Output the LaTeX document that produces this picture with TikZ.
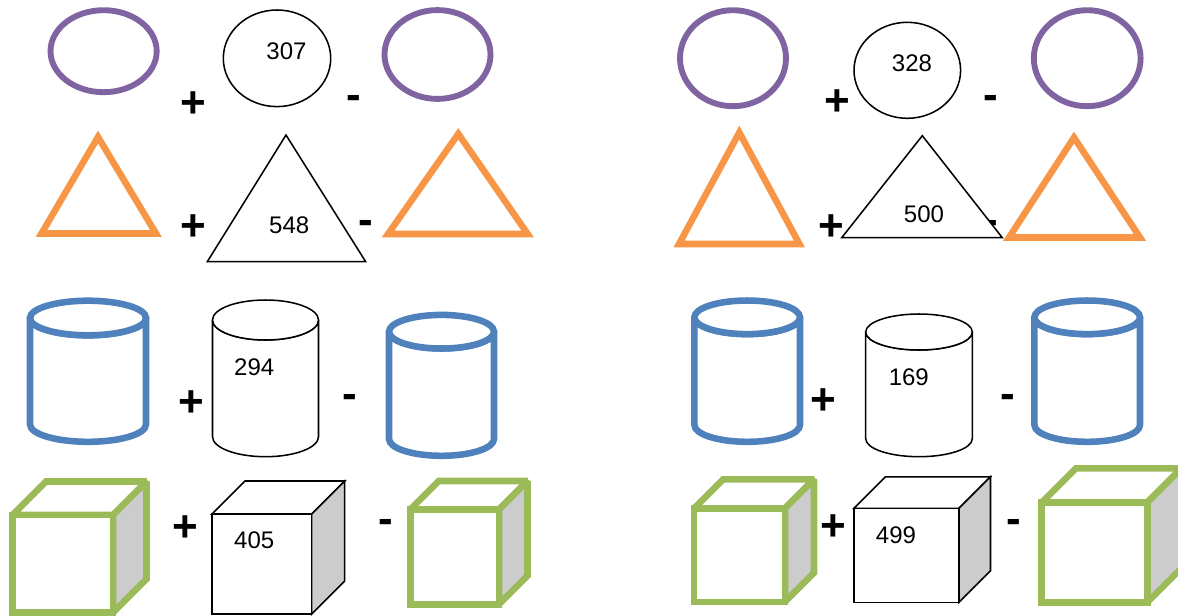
\documentclass[tikz,border=0pt]{standalone}
\usepackage{fontspec}
\setmainfont{Liberation Sans}
\definecolor{shpurple}{HTML}{8064A2}
\definecolor{shorange}{HTML}{F79646}
\definecolor{shblue}{HTML}{4F81BD}
\definecolor{shgreen}{HTML}{9BBB59}
\definecolor{sidegray}{HTML}{CCCCCC}

% cylinder: #1 style, #2 centre x, #3 top y, #4 bottom y, #5 x radius, #6 y radius
\newcommand\cylshape[6]{%
  \filldraw[#1, line join=round] ({#2-#5},#3) -- ({#2-#5},#4)
    .. controls ({#2-#5},{#4+0.5523*#6}) and ({#2-0.5523*#5},{#4+#6}) .. (#2,{#4+#6})
    .. controls ({#2+0.5523*#5},{#4+#6}) and ({#2+#5},{#4+0.5523*#6}) .. ({#2+#5},#4)
    -- ({#2+#5},#3)
    .. controls ({#2+#5},{#3+0.5523*#6}) and ({#2+0.5523*#5},{#3+#6}) .. (#2,{#3+#6})
    .. controls ({#2-0.5523*#5},{#3+#6}) and ({#2-#5},{#3+0.5523*#6}) .. ({#2-#5},#3)
    -- cycle;
  \filldraw[#1] (#2,#3) ellipse [x radius=#5, y radius=#6];
}
% cube: #1 style, #2 left, #3 top, #4 right, #5 bottom of the front face, #6 depth
\newcommand\cubeshape[6]{%
  \filldraw[#1, fill=white] (#2,#3) -- ({#2+#6},{#3-#6}) -- ({#4+#6},{#3-#6}) -- (#4,#3) -- cycle;
  \filldraw[#1, fill=sidegray] (#4,#3) -- ({#4+#6},{#3-#6}) -- ({#4+#6},{#5-#6}) -- (#4,#5) -- cycle;
  \filldraw[#1, fill=white] (#2,#3) rectangle (#4,#5);
}

\begin{document}
\begin{tikzpicture}[x=0.75pt, y=-0.75pt,
  purpleline/.style={draw=shpurple, line width=4.4pt, fill=white},
  orangeline/.style={draw=shorange, line width=4.9pt, fill=white, line join=miter},
  blueline/.style={draw=shblue, line width=4.9pt, fill=white},
  greenline/.style={draw=shgreen, line width=4.9pt, line join=miter, miter limit=2},
  blackline/.style={draw=black, line width=1.15pt, fill=white},
  num/.style={inner sep=0pt, font=\fontsize{18}{18}\selectfont},
  op/.style={inner sep=0pt, font=\fontsize{33}{33}\selectfont\bfseries}]
\useasboundingbox (0,0) rectangle (1178,615);

% ---- row 1: ellipses ----
\filldraw[purpleline] (103.6,51.2) ellipse [x radius=53.1, y radius=41];
\node[op] (p1) at (193.3,104.5) {+};
\filldraw[blackline] (277,58.3) ellipse [x radius=53.7, y radius=48.3];
\node[num] (n307) at (286.5,51.3) {307};
\node[op] (m1) at (354,102.5) {-};
\filldraw[purpleline] (437.5,54.5) ellipse [x radius=53, y radius=44.4];

\filldraw[purpleline] (733,58.2) ellipse [x radius=53, y radius=48];
\node[op] (p2) at (837,102.6) {+};
\filldraw[blackline] (907.3,70.3) ellipse [x radius=53.3, y radius=48];
\node[num] (n328) at (912,63) {328};
\node[op] (m2) at (991,102.7) {-};
\filldraw[purpleline] (1087.2,58.2) ellipse [x radius=53.4, y radius=48];

% ---- row 2: triangles ----
\filldraw[orangeline] (98,137) -- (41.5,233.5) -- (156,233.5) -- cycle;
\node[op] (p3) at (193.3,227.9) {+};
\filldraw[blackline] (286,135) -- (207.3,261.7) -- (365.7,261.7) -- cycle;
\node[num] (n548) at (289.2,225.2) {548};
\node[op] (m3) at (366,227.9) {-};
\filldraw[orangeline] (458.3,133.8) -- (388,234) -- (527.7,234) -- cycle;

\filldraw[orangeline] (739.3,132.5) -- (679,244) -- (799.4,244) -- cycle;
\node[op] (p4) at (831.7,227.3) {+};
\node[op] (m4) at (991,227.7) {-};
\filldraw[blackline] (922.3,135.7) -- (841.7,237.7) -- (1002.3,237.7) -- cycle;
\node[num] (n500) at (924,214) {500};
\filldraw[orangeline] (1074,137.5) -- (1009,237.5) -- (1140,237.5) -- cycle;

% ---- row 3: cylinders ----
\cylshape{blueline}{88}{318}{424.5}{58}{17.3}
\node[op] (p5) at (191.3,403.6) {+};
\cylshape{blackline}{265.5}{320}{436.7}{53}{20}
\node[num] (n294) at (254.2,367.5) {294};
\node[op] (m5) at (350,401.7) {-};
\cylshape{blueline}{441.5}{331.7}{439}{52.5}{16.8}

\cylshape{blueline}{747.2}{317.3}{425}{52.8}{16.8}
\node[op] (p6) at (823,401.4) {+};
\cylshape{blackline}{919}{332}{438.7}{53.3}{18}
\node[num] (n169) at (908.8,377) {169};
\node[op] (m6) at (1008.3,401.7) {-};
\cylshape{blueline}{1087.2}{317.3}{425}{52.8}{16.8}

% ---- row 4: cubes ----
\cubeshape{greenline}{12.5}{515}{113}{612.5}{33.5}
\node[op] (p7) at (185.5,528.1) {+};
\cubeshape{blackline}{212}{514}{311.7}{614}{33}
\node[num] (n405) at (254.2,540.2) {405};
\node[op] (m7) at (386,526.2) {-};
\cubeshape{greenline}{410.3}{509.5}{499}{604.3}{28.5}

\cubeshape{greenline}{694.2}{508.3}{785}{601.8}{29}
\node[op] (p8) at (833.5,527.1) {+};
\cubeshape{blackline}{854}{508.3}{959}{602.3}{31.5}
\node[num] (n499) at (896,535) {499};
\node[op] (m8) at (1013.8,526.7) {-};
\cubeshape{greenline}{1041.7}{502.5}{1147.3}{602.3}{34.2}
\end{tikzpicture}
\end{document}
